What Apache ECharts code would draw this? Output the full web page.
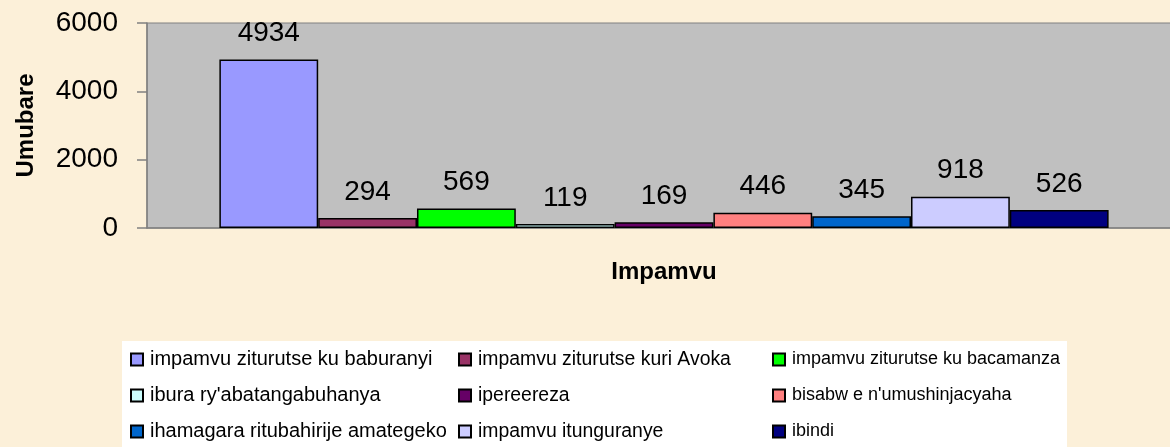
<!DOCTYPE html>
<html>
<head>
<meta charset="utf-8">
<script src="https://cdn.jsdelivr.net/npm/echarts@6/dist/echarts.min.js"></script>
<style>
  html, body { margin: 0; padding: 0; background: #FCF0D9; }
  #chart { width: 1170px; height: 447px; }
</style>
</head>
<body>
<div id="chart"></div>
<script>
  // impamvu (reasons) and counts
  var seriesNames = [
    "impamvu ziturutse ku baburanyi",
    "impamvu ziturutse kuri Avoka",
    "impamvu ziturutse ku bacamanza",
    "ibura ry'abatangabuhanya",
    "ipereereza",
    "bisabw e n'umushinjacyaha",
    "ihamagara ritubahirije amategeko",
    "impamvu itunguranye",
    "ibindi"
  ];
  var seriesValues = [4934, 294, 569, 119, 169, 446, 345, 918, 526];
  var barColors = ["#9999FF", "#993366", "#00FF00", "#CCFFFF", "#660066",
                   "#FF8080", "#0066CC", "#CCCCFF", "#000080"];
  var yTicks = [0, 2000, 4000, 6000];
  var categories = [""];

  var FONT = "Liberation Sans, Arial, sans-serif";
  var chart = echarts.init(document.getElementById("chart"));

  var series = seriesNames.map(function (name, i) {
    return {
      name: name,
      type: "bar",
      barGap: 0,
      barCategoryGap: "14%",
      data: [seriesValues[i]],
      itemStyle: { color: barColors[i], borderColor: "#000", borderWidth: 1.5 },
      label: {
        show: true,
        position: "top",
        distance: 12,
        color: "#000",
        fontSize: 28,
        fontFamily: FONT
      }
    };
  });

  // legend laid out in 3 columns (text in the right columns is a bit tighter)
  var cols = [130, 458, 772];
  var colFont = [20, 19.4, 18];
  var legends = cols.map(function (left, c) {
    return {
      orient: "vertical",
      left: left,
      top: 349.5,
      padding: 0,
      itemGap: 16,
      itemWidth: 12,
      itemHeight: 12,
      icon: "rect",
      data: [seriesNames[c], seriesNames[c + 3], seriesNames[c + 6]],
      textStyle: { color: "#000", fontSize: colFont[c], fontFamily: FONT, lineHeight: 20, padding: [0, 0, 0, 2] }
    };
  });

  var option = {
    backgroundColor: "#FCF0D9",
    animation: false,
    graphic: [{
      type: "rect",
      z: -1,
      shape: { x: 122, y: 341, width: 945, height: 110 },
      style: { fill: "#FFFFFF" }
    }],
    legend: legends,
    grid: {
      left: 147, top: 23, right: -11, bottom: 219,
      outerBoundsMode: "none",
      show: true,
      backgroundColor: "#C0C0C0",
      borderColor: "#808080",
      borderWidth: 1
    },
    xAxis: {
      type: "category",
      data: categories,
      name: "Impamvu",
      nameLocation: "middle",
      nameGap: 32,
      nameTextStyle: { fontSize: 24, fontWeight: "bold", color: "#000", fontFamily: FONT },
      axisLine: { show: true, lineStyle: { color: "#808080", width: 1.5 } },
      axisTick: { show: false },
      axisLabel: { show: false }
    },
    yAxis: {
      type: "value",
      min: yTicks[0],
      max: yTicks[yTicks.length - 1],
      interval: 2000,
      name: "Umubare",
      nameLocation: "middle",
      nameGap: 109,
      nameTextStyle: { fontSize: 24, fontWeight: "bold", color: "#000", fontFamily: FONT },
      axisLine: { show: true, lineStyle: { color: "#808080", width: 1.5 } },
      axisTick: { show: true, inside: false, length: 10, lineStyle: { color: "#808080", width: 1.5 } },
      axisLabel: {
        color: "#000", fontSize: 28, fontFamily: FONT, margin: 29,
        formatter: function (v) { return String(v); }
      },
      splitLine: { show: false }
    },
    series: series
  };

  chart.setOption(option);
</script>
</body>
</html>
